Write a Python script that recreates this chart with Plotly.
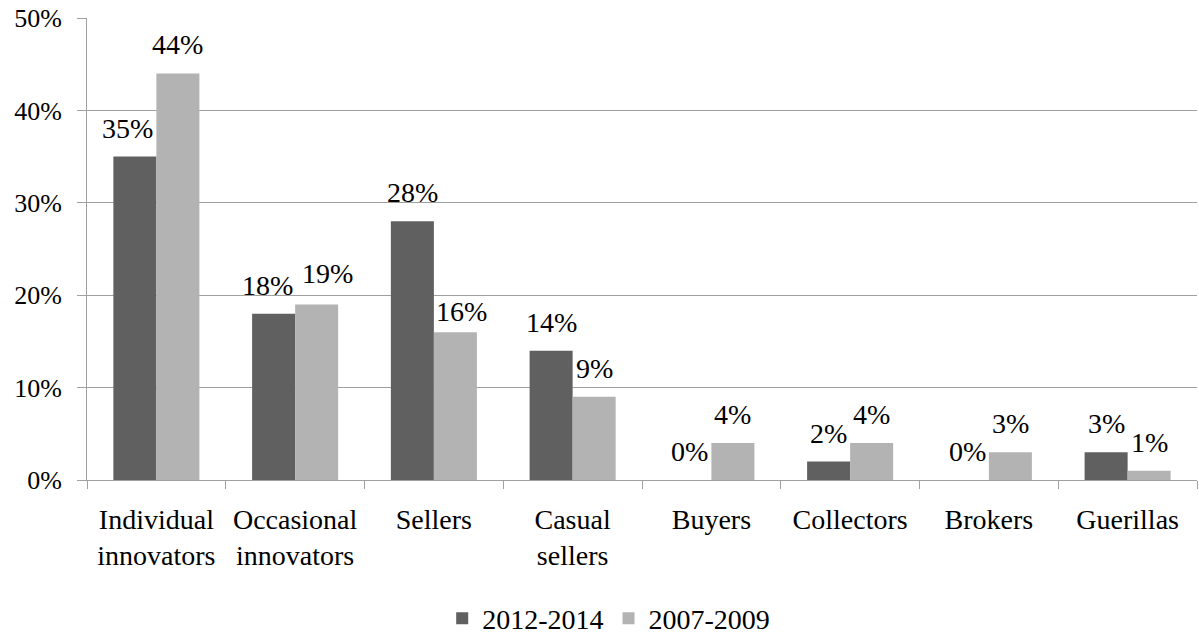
import plotly.graph_objects as go

categories = ["Individual<br>innovators", "Occasional<br>innovators", "Sellers", "Casual<br>sellers",
              "Buyers", "Collectors", "Brokers", "Guerillas"]
series_names = ["2012-2014", "2007-2009"]
values_2012_2014 = [0.35, 0.18, 0.28, 0.14, 0.00, 0.02, 0.00, 0.03]
values_2007_2009 = [0.44, 0.19, 0.16, 0.09, 0.04, 0.04, 0.03, 0.01]
colors = ["#606060", "#b3b3b3"]
tick_vals = [0, 0.1, 0.2, 0.3, 0.4, 0.5]
tick_text = ["0%", "10%", "20%", "30%", "40%", "50%"]

# small label position nudges in pixels (series index, category index) -> (dx, dy)
label_nudges = {(0, 0): (-7, 0), (0, 1): (-6, 0), (1, 1): (11, 2), (1, 2): (6, -8)}

FONT = "Liberation Serif, Times New Roman, serif"
FS = 28
FS_Y = 26

fig = go.Figure()
for name, vals, col in zip(series_names, [values_2012_2014, values_2007_2009], colors):
    fig.add_trace(go.Bar(
        x=categories, y=vals, name=name, marker=dict(color=col, line=dict(width=0)),
        cliponaxis=False,
    ))

annotations = []
half = 21.5
for si, (shift, vals) in enumerate(zip([-half, half], [values_2012_2014, values_2007_2009])):
    for ci, (c, v) in enumerate(zip(categories, vals)):
        dx, dy = label_nudges.get((si, ci), (0, 0))
        annotations.append(dict(
            x=c, y=v, xref="x", yref="y", text=f"{round(v*100)}%", showarrow=False,
            xshift=shift + dx, yshift=11 + dy, yanchor="bottom", xanchor="center",
            font=dict(family=FONT, size=FS, color="#000000"),
        ))

fig.update_layout(
    width=1199, height=635,
    margin=dict(l=87, r=2, t=18, b=155, autoexpand=False),
    paper_bgcolor="white", plot_bgcolor="white",
    barmode="group", bargap=0.38, bargroupgap=0,
    font=dict(family=FONT, size=FS, color="#000000"),
    showlegend=True,
    legend=dict(orientation="h", x=0.47, xanchor="center", y=-0.30, yanchor="middle",
                font=dict(family=FONT, size=FS), itemwidth=30, traceorder="normal"),
    annotations=annotations,
)
fig.update_yaxes(
    range=[0, 0.5], tickvals=tick_vals, ticktext=tick_text,
    tickfont=dict(family=FONT, size=FS_Y, color="#000000"),
    showgrid=True, gridcolor="#a0a0a0", gridwidth=1,
    showline=True, linecolor="#a0a0a0", linewidth=1,
    ticks="outside", ticklen=9, tickcolor="#a0a0a0", ticklabelstandoff=10,
    zeroline=False, automargin=False,
)
fig.update_xaxes(
    tickfont=dict(family=FONT, size=FS, color="#000000"),
    showline=True, linecolor="#a0a0a0", linewidth=1,
    ticks="outside", ticklen=8, tickcolor="#a0a0a0", tickson="boundaries",
    ticklabelstandoff=14, automargin=False,
)

fig.write_html("out.html", config={"displayModeBar": False},
               post_script="document.body.style.margin='0px';")
